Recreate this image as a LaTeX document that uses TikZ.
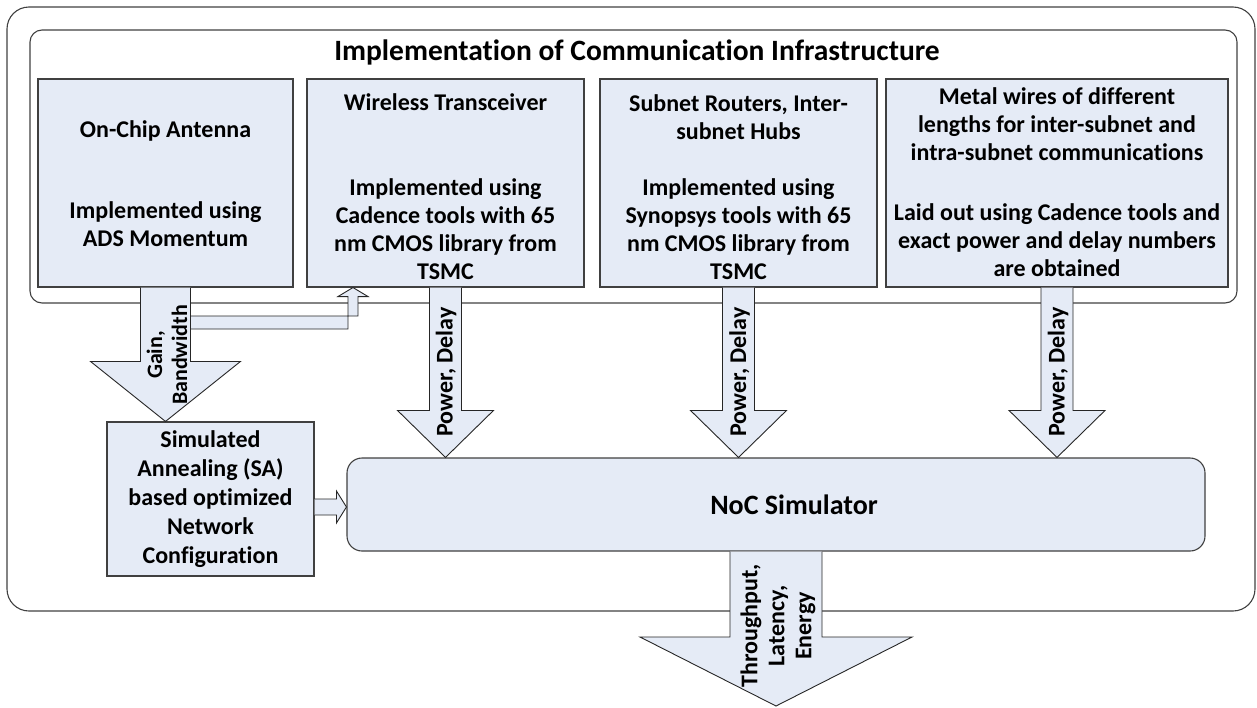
\documentclass[tikz,border=0pt]{standalone}
\usepackage{fontspec}
\setmainfont{Carlito}[Ligatures=NoCommon]
\usetikzlibrary{calc}
\definecolor{boxblue}{RGB}{229,235,246}
\definecolor{lineg}{RGB}{64,64,64}
\tikzset{
  box/.style={draw=lineg, fill=boxblue, line width=1.1pt, inner sep=0pt},
  container/.style={draw=lineg, line width=1.1pt, inner sep=0pt},
  barrow/.style={draw=black!85, fill=boxblue, line width=0.9pt, line join=miter},
  txt/.style={font=\fontsize{24}{28}\selectfont\bfseries, align=center, inner sep=0pt},
  smalltxt/.style={font=\fontsize{22}{25}\selectfont\bfseries, align=center, inner sep=0pt},
  bigtxt/.style={font=\fontsize{29.5}{34}\selectfont\bfseries, align=center, inner sep=0pt},
}
\newcommand\powerarrow[2]{%
  \filldraw[barrow] let \p1=(#1.south), \p2=(#2.north) in
    (\x1-16pt,\y1) -- (\x1-16pt,\y2+47pt) -- (\x1-48pt,\y2+47pt) -- (\x1,\y2)
    -- (\x1+48pt,\y2+47pt) -- (\x1+16pt,\y2+47pt) -- (\x1+16pt,\y1);}
\begin{document}
\begin{tikzpicture}[x=1pt,y=-1pt]
\useasboundingbox (0,0) rectangle (1257,707);
% containers
\node[container, rounded corners=22pt, minimum width=1248pt, minimum height=604pt] (outer) at (631,309) {};
\node[container, rounded corners=12pt, minimum width=1207pt, minimum height=273pt] (inner) at (633.5,166.5) {};
\node[bigtxt] (title) at (637,52) {Implementation of Communication Infrastructure};
% boxes
\node[box, minimum width=255pt, minimum height=208pt] (ant) at (165.5,183) {};
\node[box, minimum width=277pt, minimum height=208pt] (wt) at (445.5,183) {};
\node[box, minimum width=277pt, minimum height=208pt] (sr) at (738.5,183) {};
\node[box, minimum width=342pt, minimum height=208pt] (mw) at (1057,183) {};
\node[box, minimum width=207pt, minimum height=154pt] (sa) at (210.5,499) {};
\node[box, rounded corners=15pt, minimum width=858pt, minimum height=93pt] (noc) at (776,504.5) {};
% box texts
\node[txt] (antT) at (165.5,131) {On-Chip Antenna};
\node[txt] (antD) at (165.5,224) {Implemented using\\ADS Momentum};
\node[txt] (wtT) at (445.5,102) {Wireless Transceiver};
\node[txt] (wtD) at (445.5,229) {Implemented using\\Cadence tools with 65\\nm CMOS library from\\TSMC};
\node[txt] (srT) at (738.5,117) {Subnet Routers, Inter-\\subnet Hubs};
\node[txt] (srD) at (738.5,229) {Implemented using\\Synopsys tools with 65\\nm CMOS library from\\TSMC};
\node[txt] (mwT) at (1057,124) {Metal wires of different\\lengths for inter-subnet and\\intra-subnet communications};
\node[txt] (mwD) at (1057,240) {Laid out using Cadence tools and\\exact power and delay numbers\\are obtained};
\node[txt, font=\fontsize{24}{29}\selectfont\bfseries] (saT) at (210.5,499) {Simulated\\Annealing (SA)\\based optimized\\Network\\Configuration};
\node[bigtxt, font=\fontsize{28}{34}\selectfont\bfseries] (nocT) at (794,505) {NoC Simulator};
% bent arrow from gain arrow to wireless transceiver
\coordinate (bend) at (353,322.5);
\filldraw[barrow] let \p1=(ant.south), \p2=(wt.south), \p3=(bend) in
  (\x1+25pt,\y3-6.5pt) -- (\x3-5pt,\y3-6.5pt) -- (\x3-5pt,\y2-9pt) -- (\x3-15pt,\y2-9pt)
  -- (\x3,\y2) -- (\x3+15pt,\y2-9pt) -- (\x3+5pt,\y2-9pt) -- (\x3+5pt,\y3+6.5pt)
  -- (\x1+25pt,\y3+6.5pt);
% gain arrow
\filldraw[barrow] let \p1=(ant.south), \p2=(sa.north) in
  (\x1-25pt,\y1) -- (\x1-25pt,\y2+60pt) -- (\x1-75pt,\y2+60pt) -- (\x1,\y2)
  -- (\x1+75pt,\y2+60pt) -- (\x1+25pt,\y2+60pt) -- (\x1+25pt,\y1);
\node[smalltxt, rotate=90] (gainT) at (167,355) {Gain,\\Bandwidth};
% power arrows
\powerarrow{wt}{noc}
\powerarrow{sr}{noc}
\powerarrow{mw}{noc}
\node[txt, rotate=90] (p1T) at (446,372) {Power, Delay};
\node[txt, rotate=90] (p2T) at (739.5,372) {Power, Delay};
\node[txt, rotate=90] (p3T) at (1058,372) {Power, Delay};
% SA to NoC
\filldraw[barrow] let \p1=(sa.east), \p2=(noc.west) in
  (\x1,499) -- (\x2-10pt,499) -- (\x2-10pt,491) -- (\x2,507) -- (\x2-10pt,523)
  -- (\x2-10pt,515) -- (\x1,515);
% output arrow
\coordinate (out) at (776,706);
\filldraw[barrow] let \p1=(noc.south), \p2=(out) in
  (\x1-46pt,\y1) -- (\x1-46pt,\y2+69pt) -- (\x1-136pt,\y2+69pt) -- (\x1,\y2)
  -- (\x1+136pt,\y2+69pt) -- (\x1+46pt,\y2+69pt) -- (\x1+46pt,\y1);
\node[txt, font=\fontsize{24}{27}\selectfont\bfseries, rotate=90] (outT) at (778,626) {Throughput,\\Latency,\\Energy};
\end{tikzpicture}
\end{document}
